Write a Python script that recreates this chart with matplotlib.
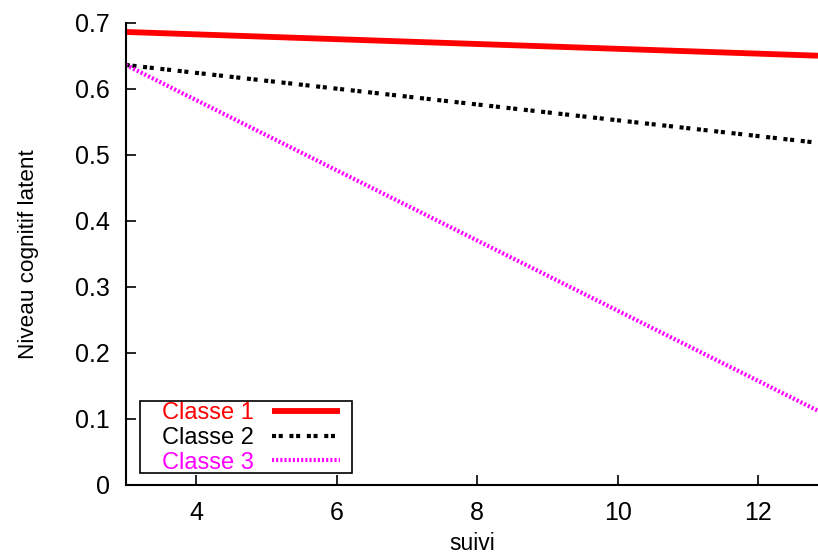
import matplotlib
matplotlib.use("Agg")
import matplotlib.pyplot as plt
from matplotlib.patches import Rectangle
from matplotlib.ticker import FuncFormatter

plt.rcParams['font.family'] = ['Liberation Sans', 'DejaVu Sans']

# Data
suivi = [3.0, 12.85]
classe1 = [0.686, 0.650]
classe2 = [0.636, 0.518]
classe3 = [0.636, 0.112]
labels = ["Classe 1", "Classe 2", "Classe 3"]
colors = ["#ff0000", "#000000", "#ff00ff"]
xticks = [4, 6, 8, 10, 12]
yticks = [0, 0.1, 0.2, 0.3, 0.4, 0.5, 0.6, 0.7]

W, H = 818, 557
fig = plt.figure(figsize=(W / 100, H / 100), dpi=100)
ax_l, ax_r, ax_t, ax_b = 125.75, 818.0, 22.7, 484.7
ax = fig.add_axes([ax_l / W, (H - ax_b) / H, (ax_r - ax_l) / W, (ax_b - ax_t) / H])

l1, = ax.plot(suivi, classe1, color=colors[0], lw=4.2, solid_capstyle='butt', label=labels[0])
l2, = ax.plot(suivi, classe2, color=colors[1], lw=3.0,
              linestyle=(0, (0.97, 0.64, 0.97, 1.6)), label=labels[1])
l3, = ax.plot(suivi, classe3, color=colors[2], lw=3.0,
              linestyle=(0, (0.5, 0.5)), label=labels[2])

ax.set_xlim(3, 12.85)
ax.set_ylim(0, 0.7)
ax.set_xticks(xticks)
ax.set_yticks(yticks)
ax.yaxis.set_major_formatter(FuncFormatter(lambda v, p: "0" if abs(v) < 1e-9 else f"{v:.1f}"))
for s in ['top', 'right']:
    ax.spines[s].set_visible(False)
for s in ['left', 'bottom']:
    ax.spines[s].set_linewidth(1.5)
ax.tick_params(direction='in', length=7, width=1.2, labelsize=18, pad=11.5,
               top=False, right=False)
ax.set_xlabel("suivi", fontsize=16.5, labelpad=5.5)
ax.set_ylabel("Niveau cognitif latent", fontsize=16.2, labelpad=26)

def fx(px):
    return (px - ax_l) / (ax_r - ax_l)

def fy(py):
    return (ax_b - py) / (ax_b - ax_t)

# legend frame
rect = Rectangle((fx(140), fy(473)), fx(352) - fx(140), fy(401) - fy(473),
                 transform=ax.transAxes, facecolor='white', edgecolor='black',
                 lw=1.2, zorder=5, clip_on=False)
ax.add_patch(rect)

leg = ax.legend(loc='upper left', bbox_to_anchor=(fx(162), fy(402)),
                frameon=False, borderpad=0, borderaxespad=0, markerfirst=False,
                fontsize=17, handlelength=2.9, handletextpad=0.75, labelspacing=0.12)
leg.set_zorder(6)
for t, c in zip(leg.get_texts(), colors):
    t.set_color(c)

fig.savefig("out.png", dpi=100)
